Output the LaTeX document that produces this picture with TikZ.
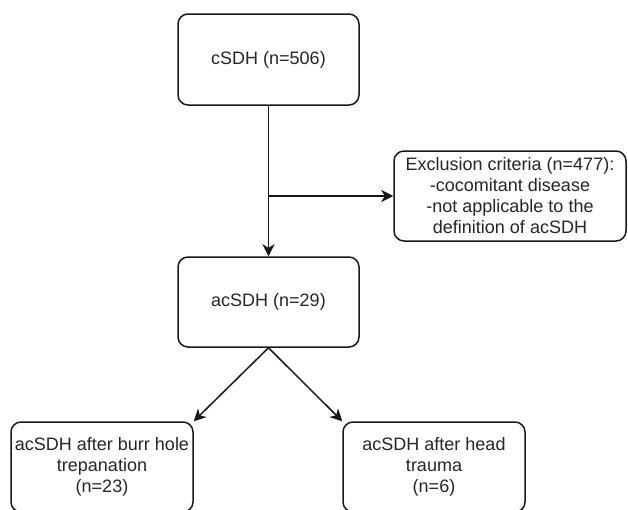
\documentclass[tikz,border=0pt]{standalone}
\usepackage{fontspec}
\setmainfont{Liberation Sans}
\usetikzlibrary{arrows.meta}
\tikzset{
  box/.style={draw=black!90, line width=1.5pt, rounded corners=10pt, align=center,
    inner sep=0pt, text=black!85, font=\fontsize{18}{21}\selectfont},
  conn/.style={draw=black!90, line width=1.5pt, -{Stealth[length=12pt,width=12pt,inset=3.5pt]}}
}
\begin{document}
\begin{tikzpicture}[x=1pt,y=-1pt]
\useasboundingbox (0,0) rectangle (628,509);
\clip (0,0) rectangle (628,509);
\fill[white] (0,0) rectangle (628,509);
\node[box, minimum width=181pt, minimum height=91pt] (b1) at (268.5,59.5) {cSDH (n=506)};
\node[box, minimum width=181pt, minimum height=90pt] (ac) at (268.5,302) {acSDH (n=29)};
\node[box, minimum width=232pt, minimum height=90pt] (ex) at (510,196) {Exclusion criteria (n=477):\\-cocomitant disease\\-not applicable to the\\definition of acSDH};
\node[box, minimum width=182pt, minimum height=90pt] (bl) at (102,467) {acSDH after burr hole\\trepanation\\(n=23)};
\node[box, minimum width=182pt, minimum height=90pt] (br) at (434,467) {acSDH after head\\trauma\\(n=6)};
\coordinate (j) at (b1.south |- ex.west);
\draw[conn] (b1.south) -- (ac.north);
\draw[conn] (j) -- (ex.west);
\draw[conn] (ac.south) -- (bl.north east);
\draw[conn] (ac.south) -- (br.north west);
\end{tikzpicture}
\end{document}
